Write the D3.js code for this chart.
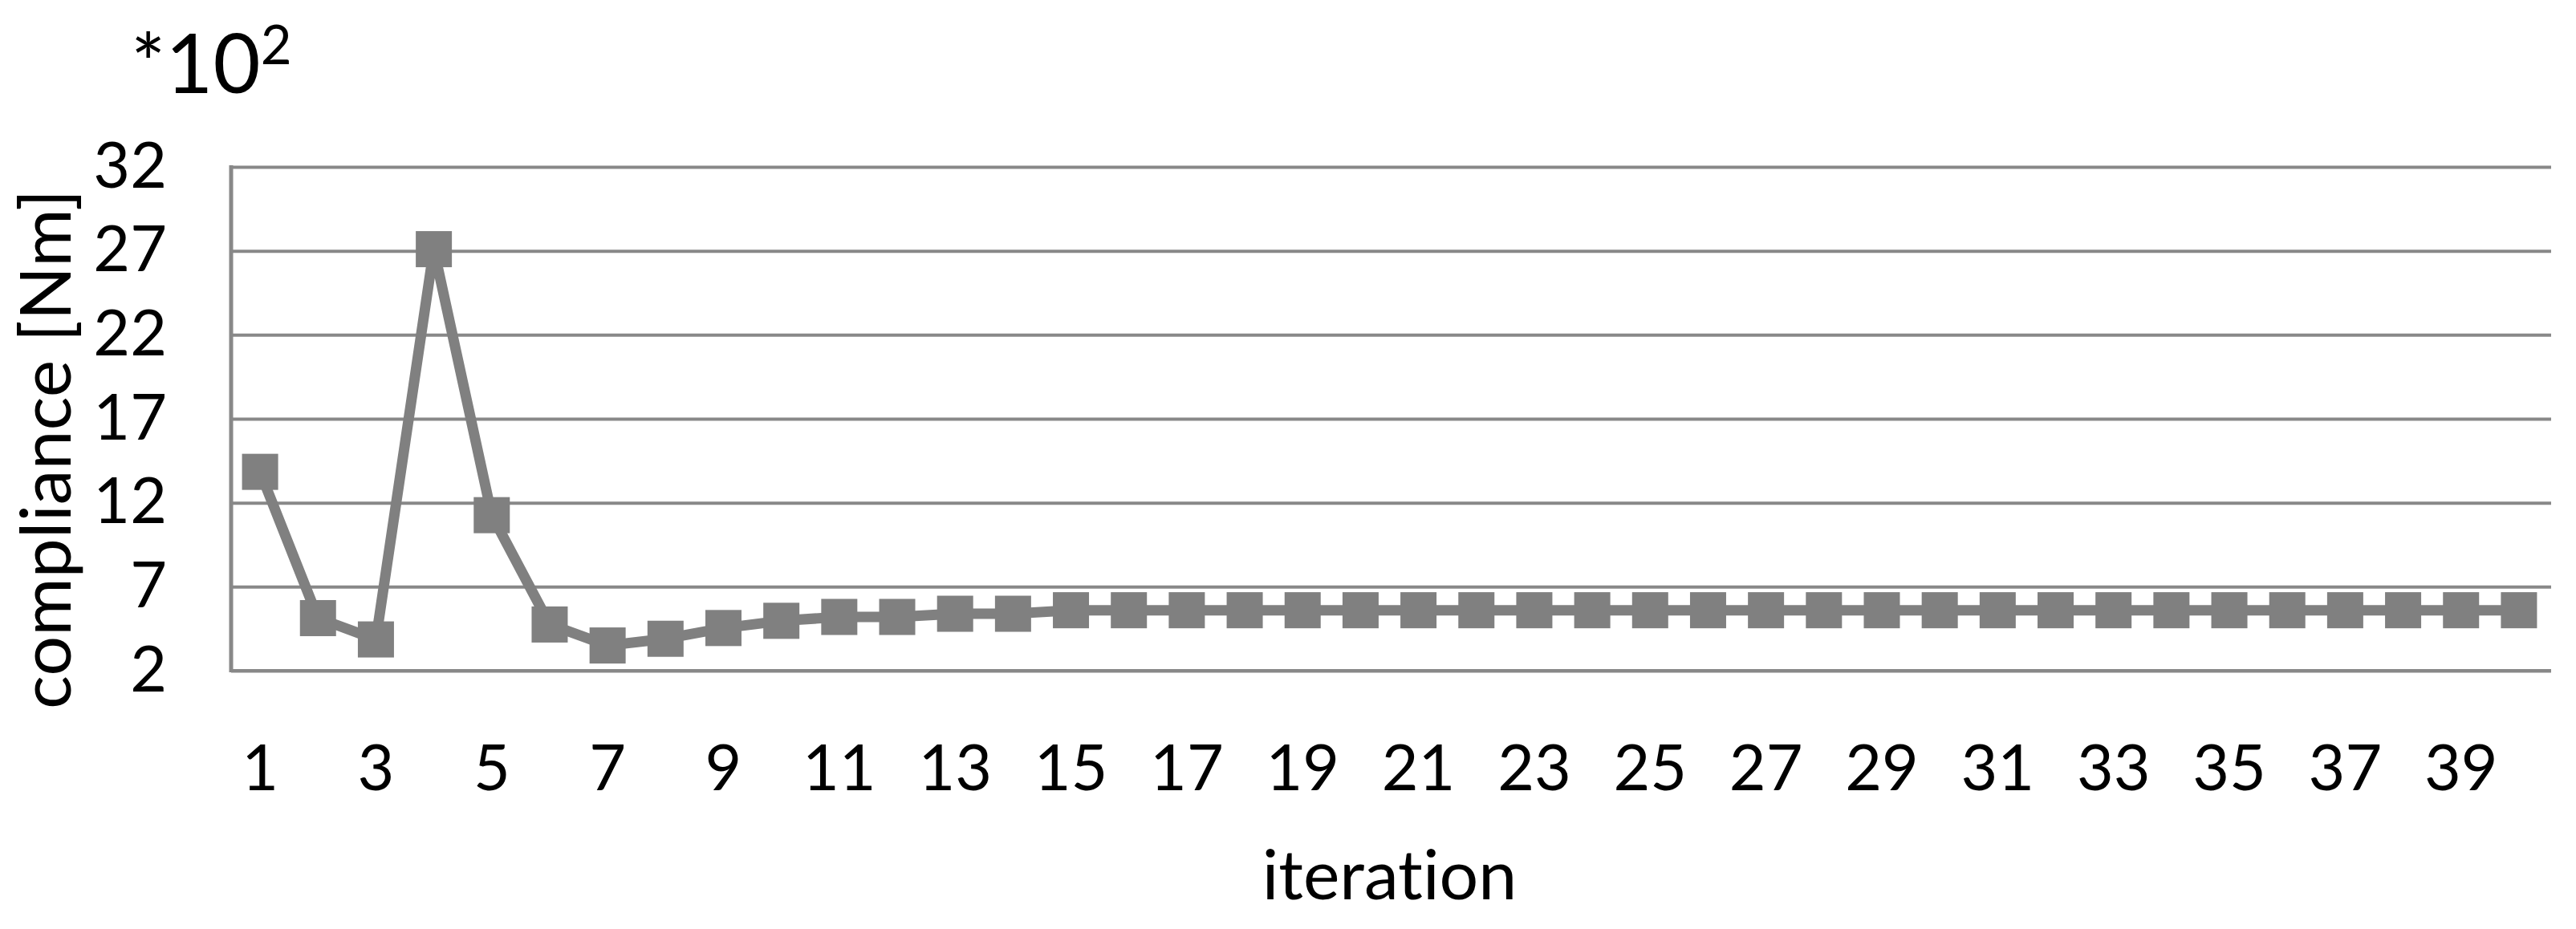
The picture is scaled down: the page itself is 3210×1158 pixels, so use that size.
<!DOCTYPE html>
<html>
<head>
<meta charset="utf-8">
<script src="https://cdn.jsdelivr.net/npm/d3@7"></script>
<style>
  html, body { margin: 0; padding: 0; background: #fff; }
  svg { display: block; font-family: Lato, "Open Sans", sans-serif; font-variant-ligatures: none; }
</style>
</head>
<body>
<div id="chart"></div>
<script>
// ------------------------------------------------------------
// Data (compliance in units of 10^2 Nm, per iteration)
// ------------------------------------------------------------
const iterations = [
  1, 2, 3, 4, 5, 6, 7, 8, 9, 10,
  11, 12, 13, 14, 15, 16, 17, 18, 19, 20,
  21, 22, 23, 24, 25, 26, 27, 28, 29, 30,
  31, 32, 33, 34, 35, 36, 37, 38, 39, 40
];
const compliance = [
  13.84, 5.13, 3.86, 27.1, 11.26, 4.75, 3.5, 3.9, 4.54, 4.97,
  5.2, 5.2, 5.39, 5.39, 5.6, 5.6, 5.6, 5.6, 5.6, 5.6,
  5.6, 5.6, 5.6, 5.6, 5.6, 5.6, 5.6, 5.6, 5.6, 5.6,
  5.6, 5.6, 5.6, 5.6, 5.6, 5.6, 5.6, 5.6, 5.6, 5.6
];
const yTicks = [2, 7, 12, 17, 22, 27, 32];
const xTicks = [1, 3, 5, 7, 9, 11, 13, 15, 17, 19, 21, 23, 25, 27, 29, 31, 33, 35, 37, 39];

// ------------------------------------------------------------
// Layout
// ------------------------------------------------------------
const width = 3210, height = 1158;
const margin = { top: 208, right: 35, bottom: 322, left: 288 };
const plotW = width - margin.left - margin.right;
const plotH = height - margin.top - margin.bottom;

const gridColor = "#888888";
const seriesColor = "#808080";

const svg = d3.select("#chart").append("svg")
  .attr("width", width)
  .attr("height", height);

const x = d3.scaleBand()
  .domain(iterations)
  .range([margin.left, margin.left + plotW]);

const y = d3.scaleLinear()
  .domain([2, 32])
  .range([margin.top + plotH, margin.top]);

const cx = d => x(d) + x.bandwidth() / 2;

// ------------------------------------------------------------
// Gridlines + y tick labels
// ------------------------------------------------------------
const yAxis = svg.append("g")
  .attr("transform", `translate(${margin.left},0)`)
  .call(d3.axisLeft(y).tickValues(yTicks).tickSizeInner(-plotW - 4).tickSizeOuter(0).tickPadding(80));

yAxis.select(".domain").remove();
yAxis.selectAll(".tick line")
  .attr("stroke", gridColor)
  .attr("stroke-width", 4);
yAxis.selectAll(".tick text")
  .attr("fill", "#000")
  .attr("font-size", 79)
  .attr("font-family", "Lato, sans-serif");

// x tick labels
const xAxis = svg.append("g")
  .attr("transform", `translate(0,${margin.top + plotH})`)
  .call(d3.axisBottom(x).tickValues(xTicks).tickSize(0));

xAxis.select(".domain").remove();
xAxis.selectAll(".tick text")
  .attr("fill", "#000")
  .attr("font-size", 79)
  .attr("font-family", "Lato, sans-serif")
  .attr("y", 149)
  .attr("dy", 0);

// axis lines
svg.append("line")
  .attr("x1", margin.left).attr("x2", margin.left + plotW + 4)
  .attr("y1", y(2)).attr("y2", y(2))
  .attr("stroke", gridColor).attr("stroke-width", 4);

svg.append("line")
  .attr("x1", margin.left).attr("x2", margin.left)
  .attr("y1", y(32) - 2).attr("y2", y(2) + 2)
  .attr("stroke", gridColor).attr("stroke-width", 5);

// ------------------------------------------------------------
// Series
// ------------------------------------------------------------
const points = iterations.map((it, i) => ({ it, v: compliance[i] }));

const line = d3.line()
  .x(d => cx(d.it))
  .y(d => y(d.v));

svg.append("path")
  .datum(points)
  .attr("fill", "none")
  .attr("stroke", seriesColor)
  .attr("stroke-width", 13)
  .attr("stroke-linejoin", "round")
  .attr("d", line);

const markerSize = 45;
svg.selectAll(".marker")
  .data(points)
  .join("rect")
  .attr("class", "marker")
  .attr("x", d => cx(d.it) - markerSize / 2)
  .attr("y", d => y(d.v) - markerSize / 2)
  .attr("width", markerSize)
  .attr("height", markerSize)
  .attr("fill", seriesColor);

// ------------------------------------------------------------
// Titles
// ------------------------------------------------------------
svg.append("text")
  .attr("x", margin.left + plotW / 2)
  .attr("y", 1121)
  .attr("text-anchor", "middle")
  .attr("font-size", 86)
  .text("iteration");

svg.append("text")
  .attr("transform", `translate(88,560) rotate(-90)`)
  .attr("text-anchor", "middle")
  .attr("font-size", 88)
  .text("compliance [Nm]");

const mult = svg.append("text")
  .attr("x", 163)
  .attr("y", 116)
  .attr("font-size", 102);
mult.append("tspan").text("*10");
mult.append("tspan")
  .attr("font-size", 67)
  .attr("dy", -36)
  .text("2");
</script>
</body>
</html>
